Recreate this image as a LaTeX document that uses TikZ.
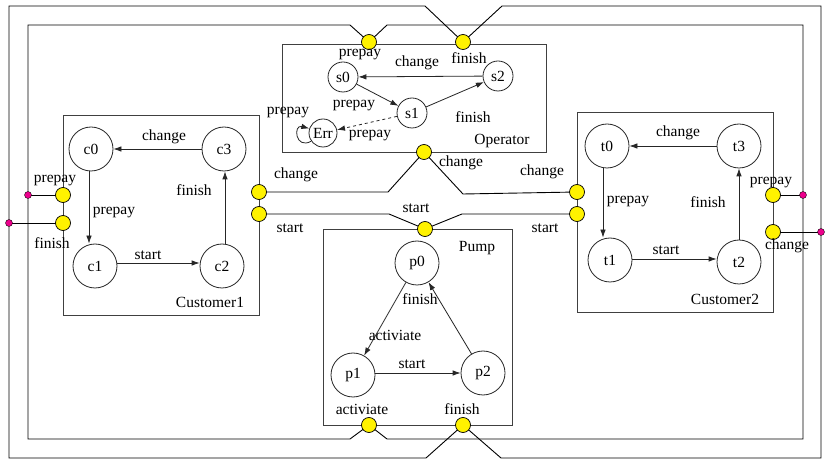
\documentclass[tikz,border=0pt]{standalone}
\usepackage{fontspec}
\setmainfont{Liberation Serif}
\usetikzlibrary{arrows.meta}
\begin{document}
\begin{tikzpicture}[x=1pt,y=-1pt,
  every node/.style={font=\fontsize{15.5}{17}\selectfont},
  st/.style={circle,draw=black!85,line width=0.8pt,minimum size=44pt,inner sep=0pt},
  sst/.style={st,minimum size=30pt},
  errst/.style={st,minimum size=28pt},
  port/.style={circle,draw=black,fill=yellow,line width=0.7pt,minimum size=15pt,inner sep=0pt},
  jn/.style={circle,draw=black,fill=magenta,line width=0.35pt,minimum size=7pt,inner sep=0pt},
  box/.style={draw=black!75,line width=0.9pt},
  wire/.style={draw=black,line width=0.9pt},
  tr/.style={draw=black!85,line width=0.8pt,-{Latex[length=8pt,width=5.5pt]}},
  lbl/.style={inner sep=0pt}]
\useasboundingbox (0,0) rectangle (828,462);
\fill[white] (0,0) rectangle (828,462);

% ---------- boxes ----------
\draw[box] (282,44) rectangle (546,152);
\draw[box] (63,115) rectangle (259,315);
\draw[box] (577,112) rectangle (773,312);
\draw[box] (323,229) rectangle (512,425);

% ---------- ports (coordinates first) ----------
\coordinate (opPreC) at (369,42);
\coordinate (opFinC) at (463,42);
\coordinate (opChC) at (424,152);
\coordinate (c1PreC) at (63,195);
\coordinate (c1FinC) at (63,223);
\coordinate (c1ChC) at (259,192);
\coordinate (c1StC) at (259,214);
\coordinate (c2ChC) at (577,192);
\coordinate (c2StC) at (577,214);
\coordinate (c2PreC) at (773,195);
\coordinate (c2ChrC) at (773,232);
\coordinate (pStC) at (425,229);
\coordinate (pActC) at (369,425);
\coordinate (pFinC) at (463,425);

% ---------- wires ----------
% outer loop
\draw[wire] (opFinC) -- (502,6) -- (821,6) -- (821,458) -- (501,458) -- (pFinC);
\draw[wire] (pFinC) -- (426,458) -- (9,458) -- (9,6) -- (425,6) -- (opFinC);
% inner loop
\draw[wire] (opPreC) -- (387,25) -- (803,25) -- (803,439) -- (387,439) -- (pActC);
\draw[wire] (pActC) -- (350,439) -- (28,439) -- (28,25) -- (350,25) -- (opPreC);
% change wire
\draw[wire] (c1ChC) -- (388,192) -- (opChC) -- (463,194) -- (c2ChC);
% start wire
\draw[wire] (c1StC) -- (389,214) -- (pStC) -- (462,214) -- (c2StC);
% junctions and stubs
\coordinate (j1C) at (28,195);
\coordinate (j2C) at (9,223);
\coordinate (j3C) at (803,195);
\coordinate (j4C) at (821,232);
\draw[wire] (j1C) -- (c1PreC);
\draw[wire] (j2C) -- (c1FinC);
\draw[wire] (j3C) -- (c2PreC);
\draw[wire] (j4C) -- (c2ChrC);
\foreach \j in {j1,j2,j3,j4}
  \node[jn] (\j) at (\j C) {};

% port nodes
\foreach \p in {opPre,opFin,opCh,c1Pre,c1Fin,c1Ch,c1St,c2Ch,c2St,c2Pre,c2Chr,pSt,pAct,pFin}
  \node[port] (\p) at (\p C) {};

% ---------- Operator ----------
\node[sst] (s0) at (343,77) {s0};
\node[sst] (s2) at (498,76) {s2};
\node[sst] (s1) at (412,113) {s1};
\node[errst] (Err) at (323,133) {Err};
\draw[tr] (s2) -- (s0);
\draw[tr] (s0) -- (s1);
\draw[tr] (s1) -- (s2);
\draw[tr,dashed] (s1) -- (Err);
\draw[tr] (Err.215) .. controls (295,150) and (293,124) .. (Err.162);
\node[lbl] (l1) at (360,55) {prepay};
\node[lbl] (l2) at (469,58) {finish};
\node[lbl] (l3) at (417,63) {change};
\node[lbl] (l4) at (354,106) {prepay};
\node[lbl] (l5) at (473,117) {finish};
\node[lbl] (l6) at (288,113) {prepay};
\node[lbl] (l7) at (370,136) {prepay};
\node[lbl] (l8) at (502,141) {Operator};

% ---------- Customer1 ----------
\node[st] (c0) at (91,149) {c0};
\node[st] (c3) at (224,149) {c3};
\node[st] (c1) at (95,266) {c1};
\node[st] (c2) at (222,266) {c2};
\draw[tr] (c3) -- (c0);
\draw[tr] ([xshift=-2pt]c0.south) -- ([xshift=-2pt]c0.south |- c1.north);
\draw[tr] (c1.east |- 0,263) -- (c2.west |- 0,263);
\draw[tr] ([xshift=3pt]c2.north) -- ([xshift=3pt]c2.north |- c3.south);
\node[lbl] at (164,137) {change};
\node[lbl] at (114,213) {prepay};
\node[lbl] at (194,190) {finish};
\node[lbl] at (148,255) {start};
\node[lbl] at (210,302) {Customer1};
\node[lbl] at (55,181) {prepay};
\node[lbl] at (52,243) {finish};
\node[lbl] at (296,175) {change};
\node[lbl] at (290,228) {start};

% ---------- Customer2 ----------
\node[st] (t0) at (607,146) {t0};
\node[st] (t3) at (739,146) {t3};
\node[st] (t1) at (610,260) {t1};
\node[st] (t2) at (739,262) {t2};
\draw[tr] (t3) -- (t0);
\draw[tr] ([xshift=-4pt]t0.south) -- ([xshift=-4pt]t0.south |- t1.north);
\draw[tr] (t1.east |- 0,259) -- (t2.west |- 0,259);
\draw[tr] (t2) -- (t3);
\node[lbl] at (678,133) {change};
\node[lbl] at (628,202) {prepay};
\node[lbl] at (708,202) {finish};
\node[lbl] at (666,250) {start};
\node[lbl] at (725,299) {Customer2};
\node[lbl] at (771,183) {prepay};
\node[lbl] at (787,246) {change};
\node[lbl] at (461,163) {change};
\node[lbl] at (542,172) {change};
\node[lbl] at (545,228) {start};

% ---------- Pump ----------
\node[st] (p0) at (417,263) {p0};
\node[st] (p1) at (353,375) {p1};
\node[st] (p2) at (483,373) {p2};
\draw[tr] (p0) -- (p1);
\draw[tr] (p1.east |- 0,373) -- (p2.west |- 0,373);
\draw[tr] (p2) -- (p0);
\node[lbl] at (416,208) {start};
\node[lbl] at (477,248) {Pump};
\node[lbl] at (420,299) {finish};
\node[lbl] at (395,335) {activiate};
\node[lbl] at (412,364) {start};
\node[lbl] at (362,409) {activiate};
\node[lbl] at (462,409) {finish};
\end{tikzpicture}
\end{document}
